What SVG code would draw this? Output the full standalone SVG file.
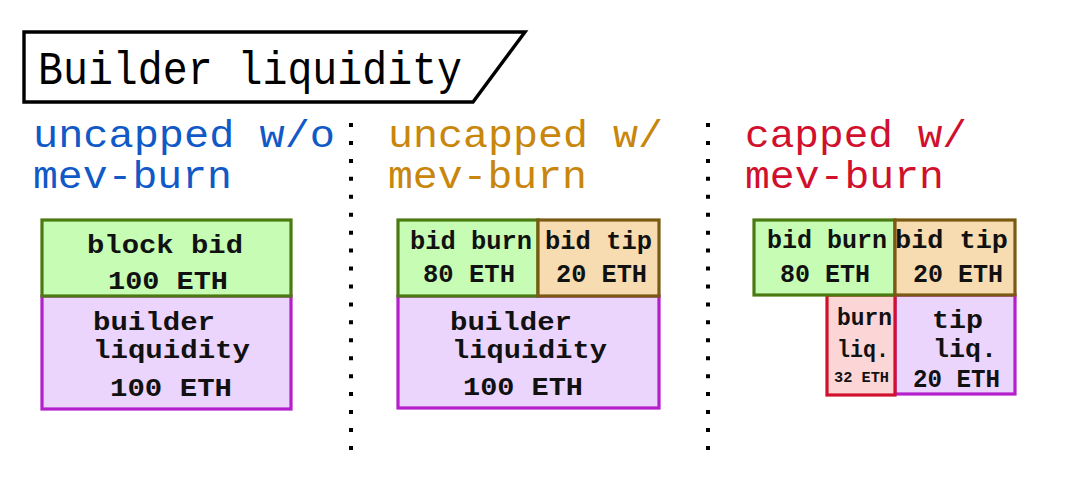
<svg xmlns="http://www.w3.org/2000/svg" width="1065" height="492" viewBox="0 0 1065 492">
<style>
.t{font-family:"Liberation Mono","DejaVu Sans Mono",monospace;}
.title{font-size:46px;fill:#000;}
.h{font-size:39px;}
.b{font-weight:bold;fill:#111;}
.s29{font-size:26px;}
.s26{font-size:25px;}
.s23{font-size:23px;}
.s15{font-size:15px;}
.green{fill:#c6fcb4;stroke:#4b7a12;stroke-width:3.2;}
.tan{fill:#f6dcb0;stroke:#7a5a12;stroke-width:3.2;}
.purple{fill:#ecd5fc;stroke:#b41fcc;stroke-width:3.2;}
.red{fill:#fcd6d6;stroke:#d0102c;stroke-width:3.2;}
.dots{stroke:#000;stroke-width:4;stroke-dasharray:4 13.94;fill:none;}
</style>
<rect width="1065" height="492" fill="#fff"/>

<g id="title">
<polygon points="24,32 525,32 473,102 24,102" fill="#fff" stroke="#000" stroke-width="3.4" stroke-linejoin="miter"/>
<text class="t title" x="38" y="84" textLength="424" lengthAdjust="spacingAndGlyphs">Builder liquidity</text>
</g>

<g id="separators">
<line class="dots" x1="351" y1="123" x2="351" y2="452"/>
<line class="dots" x1="708" y1="123" x2="708" y2="452"/>
</g>

<g id="heading-uncapped-wo" fill="#1059c6">
<text class="t h" x="33" y="147" textLength="302" lengthAdjust="spacingAndGlyphs">uncapped w/o</text>
<text class="t h" x="33" y="188" textLength="199" lengthAdjust="spacingAndGlyphs">mev-burn</text>
</g>
<g id="heading-uncapped-w" fill="#c8860c">
<text class="t h" x="388" y="147" textLength="275" lengthAdjust="spacingAndGlyphs">uncapped w/</text>
<text class="t h" x="388" y="188" textLength="199" lengthAdjust="spacingAndGlyphs">mev-burn</text>
</g>
<g id="heading-capped-w" fill="#d0102c">
<text class="t h" x="745" y="147" textLength="222" lengthAdjust="spacingAndGlyphs">capped w/</text>
<text class="t h" x="745" y="188" textLength="199" lengthAdjust="spacingAndGlyphs">mev-burn</text>
</g>

<!-- Column 1 -->
<g id="c1-builder-liquidity">
<rect class="purple" x="42" y="296" width="249" height="113"/>
<text class="t b s29" x="93" y="330" textLength="122" lengthAdjust="spacingAndGlyphs">builder</text>
<text class="t b s29" x="93" y="358" textLength="157" lengthAdjust="spacingAndGlyphs">liquidity</text>
<text class="t b s29" x="110" y="396" textLength="122" lengthAdjust="spacingAndGlyphs">100 ETH</text>
</g>
<g id="c1-block-bid">
<rect class="green" x="42" y="220" width="249" height="76"/>
<text class="t b s29" x="87" y="253" textLength="156" lengthAdjust="spacingAndGlyphs">block bid</text>
<text class="t b s29" x="108" y="289" textLength="120" lengthAdjust="spacingAndGlyphs">100 ETH</text>
</g>

<!-- Column 2 -->
<g id="c2-builder-liquidity">
<rect class="purple" x="398" y="296" width="261" height="112"/>
<text class="t b s29" x="450" y="330" textLength="122" lengthAdjust="spacingAndGlyphs">builder</text>
<text class="t b s29" x="452" y="358" textLength="155" lengthAdjust="spacingAndGlyphs">liquidity</text>
<text class="t b s29" x="463" y="395" textLength="120" lengthAdjust="spacingAndGlyphs">100 ETH</text>
</g>
<g id="c2-bid-burn">
<rect class="green" x="398" y="220" width="140" height="76"/>
<text class="t b s26" x="410" y="249" textLength="122" lengthAdjust="spacingAndGlyphs">bid burn</text>
<text class="t b s26" x="423" y="282" textLength="92" lengthAdjust="spacingAndGlyphs">80 ETH</text>
</g>
<g id="c2-bid-tip">
<rect class="tan" x="538" y="220" width="121" height="76"/>
<text class="t b s26" x="545" y="249" textLength="107" lengthAdjust="spacingAndGlyphs">bid tip</text>
<text class="t b s26" x="556" y="282" textLength="91" lengthAdjust="spacingAndGlyphs">20 ETH</text>
</g>

<!-- Column 3 -->
<g id="c3-tip-liq">
<rect class="purple" x="895" y="295" width="120" height="99"/>
<text class="t b s29" x="932" y="328" textLength="51" lengthAdjust="spacingAndGlyphs">tip</text>
<text class="t b s29" x="933" y="357" textLength="64" lengthAdjust="spacingAndGlyphs">liq.</text>
<text class="t b s29" x="913" y="387" textLength="87" lengthAdjust="spacingAndGlyphs">20 ETH</text>
</g>
<g id="c3-burn-liq">
<rect class="red" x="827" y="295" width="68" height="100"/>
<text class="t b s23" x="837" y="325" textLength="55" lengthAdjust="spacingAndGlyphs">burn</text>
<text class="t b s23" x="837" y="357" textLength="52" lengthAdjust="spacingAndGlyphs">liq.</text>
<text class="t b s15" x="834" y="382" textLength="55" lengthAdjust="spacingAndGlyphs">32 ETH</text>
</g>
<g id="c3-bid-burn">
<rect class="green" x="754" y="220" width="141" height="75"/>
<text class="t b s26" x="767" y="248" textLength="120" lengthAdjust="spacingAndGlyphs">bid burn</text>
<text class="t b s26" x="780" y="282" textLength="90" lengthAdjust="spacingAndGlyphs">80 ETH</text>
</g>
<g id="c3-bid-tip">
<rect class="tan" x="895" y="220" width="120" height="75"/>
<text class="t b s26" x="895" y="248" textLength="113" lengthAdjust="spacingAndGlyphs">bid tip</text>
<text class="t b s26" x="913" y="282" textLength="90" lengthAdjust="spacingAndGlyphs">20 ETH</text>
</g>
</svg>
